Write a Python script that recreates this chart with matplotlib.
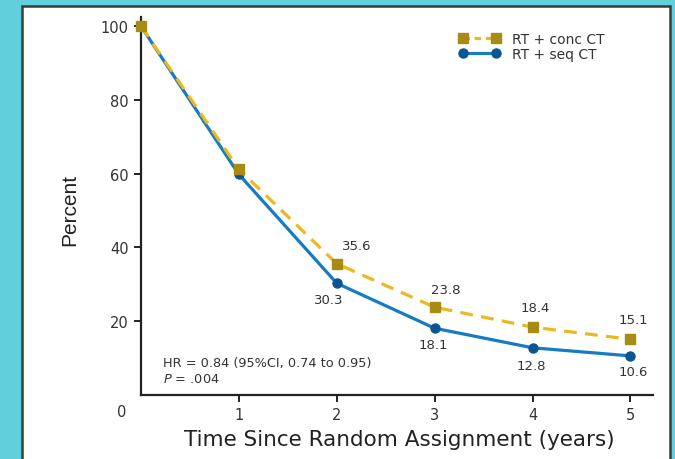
import matplotlib.pyplot as plt
from matplotlib.patches import Rectangle
from matplotlib.lines import Line2D

# survival-like curves
years = [0, 1, 2, 3, 4, 5]
concCT = [100, 61.2, 35.6, 23.8, 18.4, 15.1]
seqCT = [100, 59.8, 30.3, 18.1, 12.8, 10.6]
concLabels = ["", "", "35.6", "23.8", "18.4", "15.1"]
seqLabels = ["", "", "30.3", "18.1", "12.8", "10.6"]
yTicks = [20, 40, 60, 80, 100]
xTicks = [1, 2, 3, 4, 5]

# label offsets in points (layout only)
concOffsets = [(0, 0), (0, 0), (14, 13), (8, 13), (2, 14), (2, 14)]
seqOffsets = [(0, 0), (0, 0), (-6, -12), (-1, -12), (-1, -13), (2, -11)]

textColor = "#333333"
yellow = "#EBB91E"
gold = "#A88B14"
blue = "#157BC2"
navy = "#0B5690"

fig = plt.figure(figsize=(6.75, 4.6), dpi=100, facecolor="#62CFDD")
plt.rcParams["font.family"] = ["DejaVu Sans"]

# white panel with dark frame
panel = Rectangle((22 / 675, -0.05), 648 / 675, 1.05 - 7 / 460,
                  transform=fig.transFigure, facecolor="white",
                  edgecolor="#3a3a3a", linewidth=1.8, zorder=-1)
fig.add_artist(panel)

ax = fig.add_axes([141 / 675, 1 - 396 / 460, 512 / 675, 378 / 460])
ax.set_zorder(2)
ax.set_facecolor("none")
ax.set_xlim(0, 5.23)
ax.set_ylim(0, 102.5)
for side in ["top", "right"]:
    ax.spines[side].set_visible(False)
for side in ["left", "bottom"]:
    ax.spines[side].set_linewidth(1.6)
    ax.spines[side].set_color("#222222")

ax.plot(years, seqCT, color=blue, linewidth=2.3, marker="o", markersize=6.5,
        markerfacecolor=navy, markeredgecolor=navy, zorder=3, clip_on=False)
ax.plot(years, concCT, color=yellow, linewidth=2.3, linestyle=(0, (4, 2.6)),
        marker="s", markersize=7, markerfacecolor=gold, markeredgecolor=gold,
        zorder=4, clip_on=False)

for x, y, lab, off in zip(years, concCT, concLabels, concOffsets):
    if lab:
        ax.annotate(lab, (x, y), xytext=off, textcoords="offset points",
                    ha="center", va="center", fontsize=9.5, color=textColor)
for x, y, lab, off in zip(years, seqCT, seqLabels, seqOffsets):
    if lab:
        ax.annotate(lab, (x, y), xytext=off, textcoords="offset points",
                    ha="center", va="center", fontsize=9.5, color=textColor)

ax.set_yticks(yTicks)
ax.set_xticks(xTicks)
ax.tick_params(axis="both", direction="out", length=5, width=1.4,
               color="#222222", labelsize=10.5, labelcolor=textColor, pad=4)
ax.text(-0.2, -4.4, "0", ha="center", va="center", fontsize=10.5,
        color=textColor, clip_on=False)

ax.text(0.22, 8.7, "HR = 0.84 (95%CI, 0.74 to 0.95)", fontsize=9.3,
        color=textColor, va="center")
ax.text(0.22, 4.4, r"$P$ = .004", fontsize=9.3, color=textColor, va="center")

fig.text(70 / 675, 1 - 210 / 460, "Percent", rotation=90, ha="center",
         va="center", fontsize=15, color="#222222",
         family=["Liberation Sans Narrow", "Liberation Sans", "DejaVu Sans"])
fig.text(399 / 675, 1 - 440 / 460, "Time Since Random Assignment (years)",
         ha="center", va="center", fontsize=15.5, color="#222222")

handles = [
    Line2D([], [], color=yellow, linewidth=2.3, linestyle=(0, (2, 1.5)),
           marker="s", markersize=7, markerfacecolor=gold, markeredgecolor=gold),
    Line2D([], [], color=blue, linewidth=2.3, marker="o", markersize=6.5,
           markerfacecolor=navy, markeredgecolor=navy),
]
fig.legend(handles, ["RT + conc CT", "RT + seq CT"], loc="upper left",
           bbox_to_anchor=(452 / 675, 1 - 26 / 460), frameon=False, numpoints=2,
           fontsize=10, handlelength=3.0, handletextpad=0.8, labelspacing=0.1,
           borderpad=0, labelcolor=textColor)

fig.savefig("out.png", dpi=100, facecolor=fig.get_facecolor())
